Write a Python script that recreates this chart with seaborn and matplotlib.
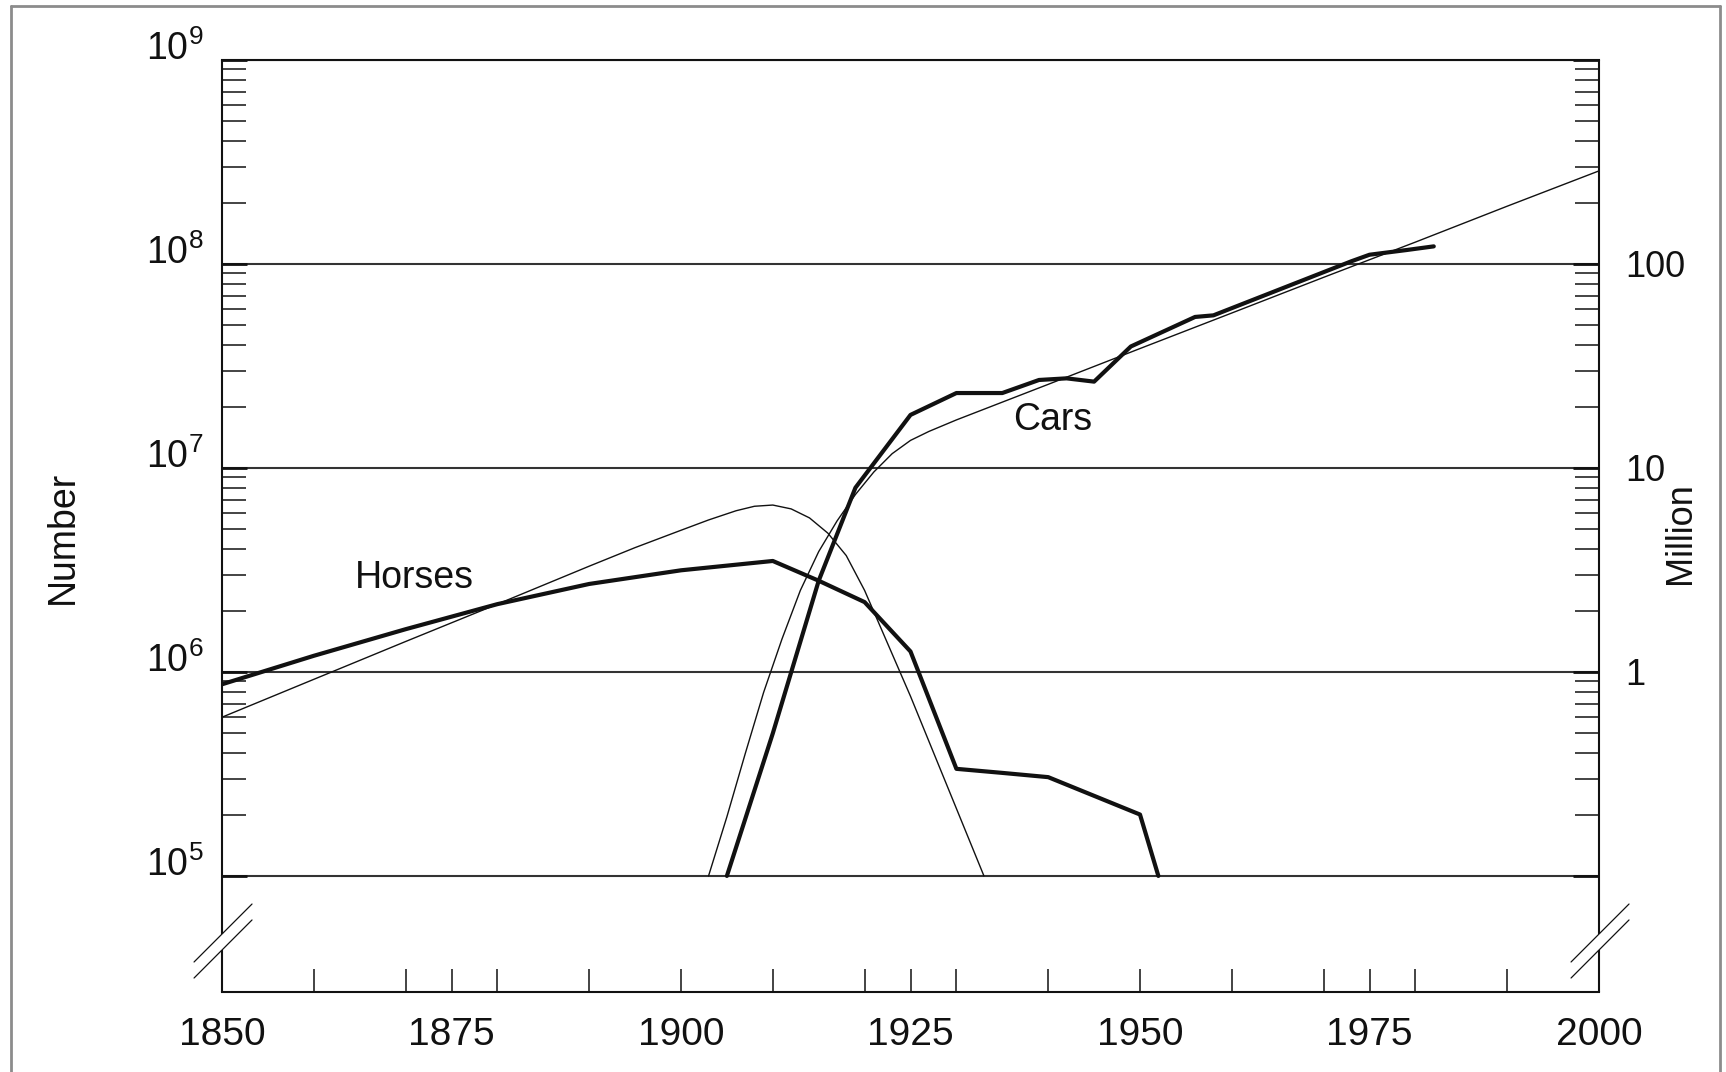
import matplotlib
matplotlib.use("Agg")
import matplotlib.pyplot as plt
import seaborn as sns
from matplotlib.ticker import FixedLocator, FixedFormatter, NullFormatter
from matplotlib.lines import Line2D

# ---------------- data ----------------
horse_years = [1850, 1860, 1870, 1880, 1890, 1900, 1910, 1915, 1920, 1925,
               1930, 1935, 1940, 1950, 1952]
horse_values = [0.87e6, 1.2e6, 1.62e6, 2.15e6, 2.7e6, 3.15e6, 3.5e6, 2.8e6,
                2.2e6, 1.26e6, 3.35e5, 3.2e5, 3.05e5, 2.0e5, 1.0e5]

horse_fit_years = [1850, 1860, 1870, 1880, 1890, 1895, 1900, 1903, 1906, 1908,
                   1910, 1912, 1914, 1916, 1918, 1920, 1925, 1930, 1933]
horse_fit_values = [6.0e5, 9.2e5, 1.41e6, 2.15e6, 3.3e6, 4.07e6, 4.95e6, 5.56e6,
                    6.17e6, 6.49e6, 6.58e6, 6.3e6, 5.69e6, 4.79e6, 3.72e6,
                    2.51e6, 7.6e5, 2.14e5, 1.0e5]

car_years = [1905, 1910, 1915, 1919, 1925, 1930, 1935, 1939, 1942, 1945,
             1949, 1956, 1958, 1973, 1975, 1979, 1982]
car_values = [1.0e5, 5.0e5, 2.8e6, 8.0e6, 1.82e7, 2.33e7, 2.33e7, 2.7e7,
              2.75e7, 2.65e7, 3.94e7, 5.5e7, 5.6e7, 1.03e8, 1.11e8, 1.17e8, 1.22e8]

car_fit_years = [1903, 1905, 1907, 1909, 1911, 1913, 1915, 1917, 1919, 1921,
                 1923, 1925, 1927, 1930, 1940, 1950, 1960, 1970, 1980, 1990, 2000]
car_fit_values = [1.0e5, 1.95e5, 3.98e5, 7.94e5, 1.45e6, 2.51e6, 3.89e6, 5.5e6,
                  7.41e6, 9.55e6, 1.175e7, 1.365e7, 1.51e7, 1.72e7, 2.57e7,
                  3.85e7, 5.75e7, 8.6e7, 1.28e8, 1.92e8, 2.86e8]

x_label_years = [1850, 1875, 1900, 1925, 1950, 1975, 2000]
x_minor_years = [1860, 1870, 1880, 1890, 1910, 1920, 1930, 1940, 1960, 1970,
                 1980, 1990]
left_ticks = [1e5, 1e6, 1e7, 1e8, 1e9]
left_labels = [r"$\mathregular{10^{5}}$", r"$\mathregular{10^{6}}$",
               r"$\mathregular{10^{7}}$", r"$\mathregular{10^{8}}$",
               r"$\mathregular{10^{9}}$"]
right_ticks = [0.1, 1, 10, 100, 1000]
right_labels = ["", "1", "10", "100", ""]

# ---------------- style ----------------
sns.set_style("white")
plt.rcParams["font.family"] = ["Liberation Sans", "DejaVu Sans"]
plt.rcParams["mathtext.fontset"] = "custom"
plt.rcParams["mathtext.rm"] = "Liberation Sans"
plt.rcParams["mathtext.it"] = "Liberation Sans:italic"
plt.rcParams["mathtext.bf"] = "Liberation Sans:bold"

INK = "#111111"
fig = plt.figure(figsize=(17.26, 10.72), dpi=100)
fig.patch.set_facecolor("white")
ax = fig.add_axes([222 / 1726, 1 - 992 / 1072, (1599 - 222) / 1726, (992 - 60) / 1072])

ax.set_yscale("log")
ymin = 10 ** 4.431
ax.set_xlim(1850, 2000)
ax.set_ylim(ymin, 1e9)

sns.lineplot(x=horse_fit_years, y=horse_fit_values, ax=ax, color=INK, lw=1.0,
             estimator=None, sort=False)
sns.lineplot(x=car_fit_years, y=car_fit_values, ax=ax, color=INK, lw=1.0,
             estimator=None, sort=False)
sns.lineplot(x=horse_years, y=horse_values, ax=ax, color=INK, lw=3.0,
             estimator=None, sort=False)
sns.lineplot(x=car_years, y=car_values, ax=ax, color=INK, lw=3.0,
             estimator=None, sort=False)

# y axis (left)
minor_pos = [k * 10 ** e for e in range(5, 9) for k in range(2, 10)]
ax.yaxis.set_major_locator(FixedLocator(left_ticks))
ax.yaxis.set_major_formatter(FixedFormatter(left_labels))
ax.yaxis.set_minor_locator(FixedLocator(minor_pos))
ax.yaxis.set_minor_formatter(NullFormatter())
ax.tick_params(axis="y", which="major", direction="in", length=18, width=2.0,
               color=INK, labelsize=27, pad=13.5, left=True, right=False,
               labelcolor=INK)
ax.tick_params(axis="y", which="minor", direction="in", length=17, width=1.1,
               color=INK, left=True, right=False)
for lab in ax.get_yticklabels():
    lab.set_verticalalignment("baseline")

# x axis
ax.xaxis.set_major_locator(FixedLocator(x_label_years))
ax.xaxis.set_major_formatter(FixedFormatter([str(y) for y in x_label_years]))
ax.xaxis.set_minor_locator(FixedLocator(x_minor_years))
ax.tick_params(axis="x", which="both", direction="in", length=16.5, width=1.1,
               color=INK, labelsize=28, pad=18, labelcolor=INK, top=False,
               bottom=True)

# grid lines at decades
ax.yaxis.grid(True, which="major", color="#333333", lw=1.5)
ax.xaxis.grid(False)

# right axis in millions
ax2 = ax.twinx()
ax2.set_yscale("log")
ax2.set_ylim(ymin / 1e6, 1e3)
ax2.yaxis.set_major_locator(FixedLocator(right_ticks))
ax2.yaxis.set_major_formatter(FixedFormatter(right_labels))
ax2.yaxis.set_minor_locator(FixedLocator([m / 1e6 for m in minor_pos]))
ax2.yaxis.set_minor_formatter(NullFormatter())
ax2.tick_params(axis="y", which="major", direction="in", length=19, width=2.0,
                color=INK, labelsize=26, pad=19, labelcolor=INK, right=True,
                left=False)
ax2.tick_params(axis="y", which="minor", direction="in", length=17, width=1.1,
                color=INK, right=True, left=False)
for lab in ax2.get_yticklabels():
    lab.set_y(lab.get_position()[1])
for s in ax2.spines.values():
    s.set_visible(False)

# spines: top & bottom normal, left/right drawn with a break
for name in ["top", "bottom"]:
    ax.spines[name].set_visible(True)
    ax.spines[name].set_color(INK)
    ax.spines[name].set_linewidth(1.5)
ax.spines["left"].set_visible(False)
ax.spines["right"].set_visible(False)

gap_lo, gap_hi = 0.0451, 0.0622
for xs in (0.0, 1.0):
    ax.plot([xs, xs], [0, gap_lo], transform=ax.transAxes, color=INK, lw=1.5,
            clip_on=False, solid_capstyle="butt")
    ax.plot([xs, xs], [gap_hi, 1], transform=ax.transAxes, color=INK, lw=1.5,
            clip_on=False, solid_capstyle="butt")
    dx0, dx1 = xs - 0.0203, xs + 0.0218
    ax.plot([dx0, dx1], [0.0322, 0.0944], transform=ax.transAxes, color=INK,
            lw=0.9, clip_on=False)
    ax.plot([dx0, dx1], [0.0150, 0.0773], transform=ax.transAxes, color=INK,
            lw=0.9, clip_on=False)

# in-plot labels
ax.text(1871.0, 2.89e6, "Horses", fontsize=27, color=INK, ha="center", va="center")
ax.text(1940.5, 1.71e7, "Cars", fontsize=27, color=INK, ha="center", va="center")

# axis titles
fig.text(63 / 1726, 1 - 537 / 1072, "Number", rotation=90, fontsize=27,
         color=INK, ha="center", va="center")
fig.text(1680 / 1726, 1 - 533 / 1072, "Million", rotation=90, fontsize=26,
         color=INK, ha="center", va="center")

# grey frame around figure
fc = "#8c8c8c"
fig.add_artist(Line2D([11 / 1726, 11 / 1726], [0, 1 - 6 / 1072],
                      transform=fig.transFigure, color=fc, lw=2))
fig.add_artist(Line2D([11 / 1726, 1720 / 1726], [1 - 6 / 1072, 1 - 6 / 1072],
                      transform=fig.transFigure, color=fc, lw=2))
fig.add_artist(Line2D([1720 / 1726, 1720 / 1726], [0, 1 - 6 / 1072],
                      transform=fig.transFigure, color=fc, lw=2))

fig.savefig("out.png", dpi=100, facecolor="white")
